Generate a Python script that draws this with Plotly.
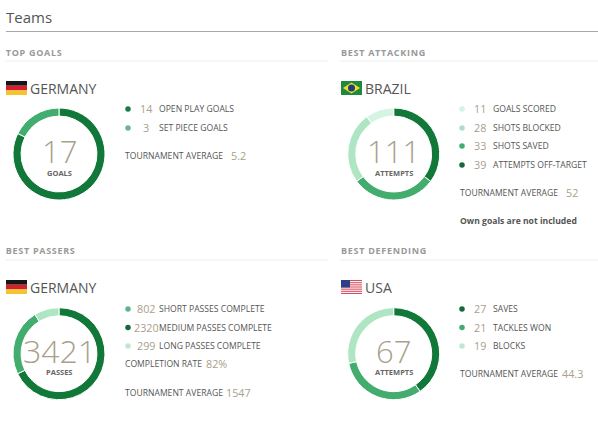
import plotly.graph_objects as go

W, H = 598, 424
DARK, MID, LIGHT, PALE = "#12783a", "#42ad6e", "#aee6c4", "#d5f4e2"
NUM = "#a89f8c"
TXT = "#555555"
FONT = "Open Sans"

goals_labels = ["OPEN PLAY GOALS", "SET PIECE GOALS"]
goals_values = [14, 3]
attack_labels = ["GOALS SCORED", "SHOTS BLOCKED", "SHOTS SAVED", "ATTEMPTS OFF-TARGET"]
attack_values = [11, 28, 33, 39]
pass_labels = ["SHORT PASSES COMPLETE", "MEDIUM PASSES COMPLETE", "LONG PASSES COMPLETE"]
pass_values = [802, 2320, 299]
defend_labels = ["SAVES", "TACKLES WON", "BLOCKS"]
defend_values = [27, 21, 19]

panels = [
    dict(head="TOP GOALS", team="GERMANY", flag="de", total="17", unit="GOALS", labels=goals_labels,
         values=goals_values, colors=[DARK, MID], dots=["#1b7a4a", "#66b795"], order=[0, 1],
         cx=59, cy=154, ox=0, oy=0, rows=[109, 128], avg="5.2", avg_y=156, avg_x=231, size=31),
    dict(head="BEST ATTACKING", team="BRAZIL", flag="br", total="111", unit="ATTEMPTS", labels=attack_labels,
         values=attack_values, colors=[PALE, LIGHT, MID, DARK], dots=[PALE, "#aee0c6", "#42ad6e", "#14693c"], order=[3, 2, 1, 0],
         cx=393.7, cy=154, ox=335, oy=0, rows=[109, 128, 146, 165], avg="52", avg_y=193, avg_x=566, size=31),
    dict(head="BEST PASSERS", team="GERMANY", flag="de", total="3421", unit="PASSES", labels=pass_labels,
         values=pass_values, colors=[MID, DARK, LIGHT], dots=["#5fb48e", "#14693c", "#bfe8d0"], order=[1, 0, 2],
         cx=59, cy=353.7, ox=0, oy=199, rows=[309, 327.5, 346], avg="1547", avg_y=393, avg_x=226, size=32),
    dict(head="BEST DEFENDING", team="USA", flag="us", total="67", unit="ATTEMPTS", labels=defend_labels,
         values=defend_values, colors=[DARK, MID, LIGHT], dots=["#14693c", "#42ad6e", "#bfe8d0"], order=[0, 1, 2],
         cx=393.7, cy=353.7, ox=335, oy=199, rows=[309, 327.5, 346], avg="44.3", avg_y=374, avg_x=562, size=31),
]

fig = go.Figure()
ann, shapes = [], []


def text(x, y, s, size=9, color=TXT, anchor="left", weight=400):
    if anchor == "left":
        x -= 2
    ann.append(dict(x=x, y=y, text=s, showarrow=False, xanchor=anchor, yanchor="middle", xref="x", yref="y",
                    font=dict(family=FONT, size=size, color=color, weight=weight)))


def rect(x0, y0, x1, y1, color):
    shapes.append(dict(type="rect", xref="x", yref="y", x0=x0, y0=y0, x1=x1, y1=y1,
                       fillcolor=color, line_width=0, layer="above"))


def flag(kind, x, y):
    if kind == "de":
        rect(x, y, x + 21, y + 4.7, "#151515")
        rect(x, y + 4.7, x + 21, y + 9.4, "#d4202a")
        rect(x, y + 9.4, x + 21, y + 14, "#f5c52e")
    elif kind == "br":
        rect(x, y, x + 21, y + 14, "#1f8a3e")
        shapes.append(dict(type="path", xref="x", yref="y", layer="above", line_width=0, fillcolor="#f2dc2c",
                           path=f"M {x+2} {y+7} L {x+10.5} {y+1.5} L {x+19} {y+7} L {x+10.5} {y+12.5} Z"))
        shapes.append(dict(type="circle", xref="x", yref="y", layer="above", line_width=0, fillcolor="#1d3f7a",
                           x0=x + 7, y0=y + 3.5, x1=x + 14, y1=y + 10.5))
    else:
        rect(x, y, x + 21, y + 14, "#ffffff")
        for i in range(0, 7):
            rect(x, y + i * 2.15, x + 21, y + i * 2.15 + 1.1, "#d8505f")
        rect(x, y, x + 9, y + 7.5, "#2d3f86")


for p in panels:
    ox, oy = p["ox"], p["oy"]
    R = 46
    fig.add_trace(go.Pie(
        values=[p["values"][i] for i in p["order"]],
        labels=[p["labels"][i] for i in p["order"]],
        marker=dict(colors=[p["colors"][i] for i in p["order"]], line=dict(color="#ffffff", width=1)),
        hole=0.825, sort=False, direction="clockwise", rotation=0, textinfo="none", showlegend=False,
        domain=dict(x=[(p["cx"] - R) / W, (p["cx"] + R) / W], y=[1 - (p["cy"] + R) / H, 1 - (p["cy"] - R) / H]),
    ))
    text(p["cx"], p["cy"] - 3, p["total"], size=p["size"], color=NUM, anchor="center", weight=300)
    text(p["cx"], p["cy"] + 18.5, p["unit"], size=7.5, color="#666666", anchor="center", weight=700)
    text(ox + 6 + len(p["head"]) * 0.35, 52 + oy - (1 if oy else 0), p["head"], size=9, color="#999999", weight=700)
    shapes.append(dict(type="line", xref="x", yref="y", x0=ox + 5 if ox else 5, x1=328 if ox == 0 else 598,
                       y0=61 + oy, y1=61 + oy, line=dict(color="#eeeeee", width=1)))
    flag(p["flag"], ox + 6, 81 + oy)
    text(ox + 30, 88 + oy, p["team"], size=14, color="#555555")
    dotx = (128 if ox == 0 else 462)
    fig.add_trace(go.Scatter(x=[dotx] * len(p["rows"]), y=p["rows"], mode="markers", showlegend=False,
                             marker=dict(size=5.5, color=p["dots"]), xaxis="x", yaxis="y", hoverinfo="skip"))
    for y, v, lab in zip(p["rows"], p["values"], p["labels"]):
        text(dotx + 18, y - 0.5, str(v), size=10.8, color=NUM, anchor="center")
        text(dotx + 31, y, lab, size=8.6, color=TXT)
    lx = 125 if ox == 0 else 460
    text(lx, p["avg_y"], "TOURNAMENT AVERAGE", size=8.6, color=TXT)
    text(p["avg_x"], p["avg_y"] - 0.5, p["avg"], size=10.8, color=NUM)

text(6, 17, "Teams", size=15, color="#555555")
shapes.append(dict(type="line", xref="x", yref="y", x0=6, x1=598, y0=31.5, y1=31.5, line=dict(color="#aaaaaa", width=1)))
text(460, 221, "Own goals are not included", size=8.6, color="#555555", weight=700)
text(125, 364, "COMPLETION RATE", size=8.6, color=TXT)
text(206, 363.5, "82%", size=10.8, color=NUM)

fig.update_layout(
    width=W, height=H, margin=dict(l=0, r=0, t=0, b=0), paper_bgcolor="#ffffff", plot_bgcolor="#ffffff",
    xaxis=dict(range=[0, W], visible=False, fixedrange=True),
    yaxis=dict(range=[H, 0], visible=False, fixedrange=True),
    annotations=ann, shapes=shapes, showlegend=False,
)
fig.write_html("out.html", config={"displayModeBar": False},
               post_script="document.body.style.margin='0';"
                           "document.querySelectorAll('.annotation-text').forEach(function(t){"
                           "if(['TOP GOALS','BEST ATTACKING','BEST PASSERS','BEST DEFENDING'].includes(t.textContent)){t.style.letterSpacing='0.7px';}});")
